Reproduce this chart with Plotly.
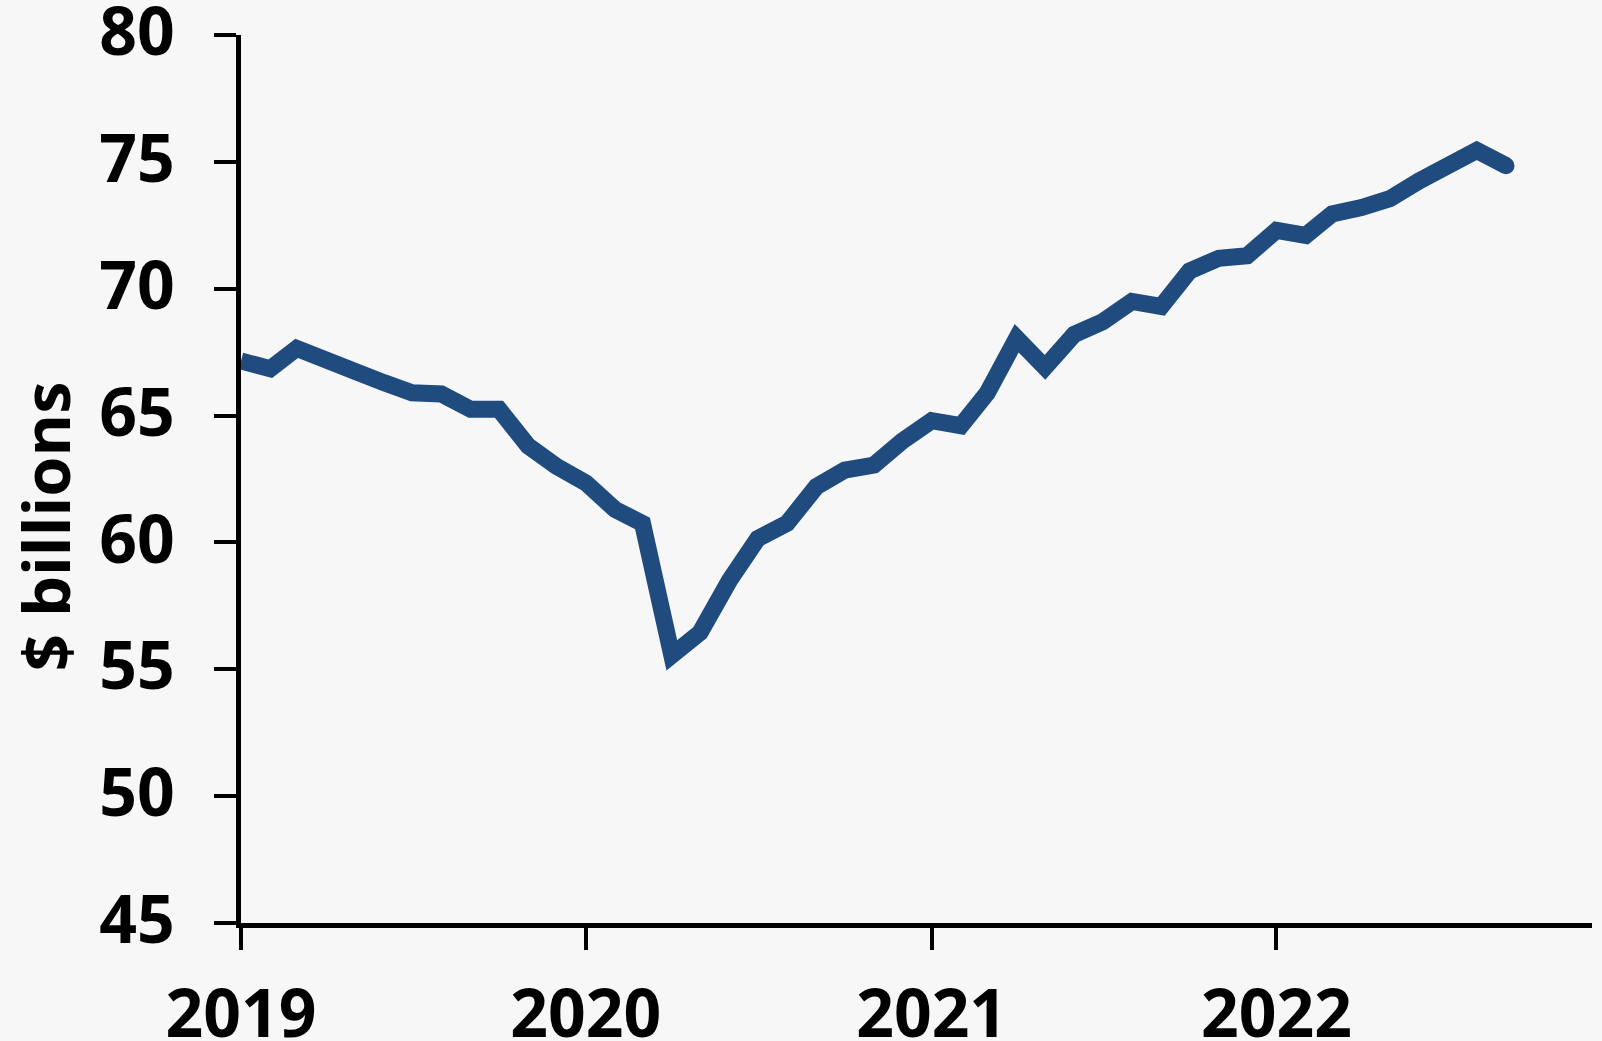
import plotly.graph_objects as go
import pandas as pd

months = pd.date_range("2019-01-01", "2022-09-01", freq="MS")
values = [
    67.15, 66.85, 67.65, 67.1, 66.75, 66.3, 65.9, 65.85, 65.25, 65.25, 63.8, 63.0,
    62.35, 61.3, 60.75, 55.55, 56.45, 58.5, 60.15, 60.75, 62.2, 62.85, 63.05, 64.0,
    64.8, 64.6, 65.9, 68.05, 66.9, 68.2, 68.7, 69.5, 69.3, 70.7, 71.2, 71.3,
    72.3, 72.1, 72.95, 73.2, 73.55, 74.25, 74.8, 75.45, 74.85,
]
y_ticks = [45, 50, 55, 60, 65, 70, 75, 80]
x_ticks = ["2019-01-01", "2020-01-01", "2021-01-01", "2022-01-01"]
x_tick_labels = ["2019", "2020", "2021", "2022"]
y_title = "$ billions"

LINE = "#1f4b7e"
BG = "#f7f7f7"
FONT = "Open Sans"

fig = go.Figure()
fig.add_trace(go.Scatter(
    x=months, y=values, mode="lines",
    line=dict(color=LINE, width=17),
    hoverinfo="skip", showlegend=False,
))
fig.add_trace(go.Scatter(
    x=[months[-1]], y=[values[-1]], mode="markers",
    marker=dict(color=LINE, size=17, line=dict(width=0)),
    hoverinfo="skip", showlegend=False,
))

fig.update_layout(
    template="none",
    width=1602, height=1041,
    margin=dict(l=241, r=10, t=35, b=118, autoexpand=False),
    paper_bgcolor=BG, plot_bgcolor=BG,
    font=dict(family=FONT, color="black"),
    xaxis=dict(
        range=["2019-01-01", "2022-12-01"],
        tickmode="array", tickvals=x_ticks, ticktext=x_tick_labels,
        ticks="outside", ticklen=22, tickwidth=4, tickcolor="black",
        showline=True, linecolor="black", linewidth=5,
        showgrid=False, zeroline=False, automargin=False,
        tickfont=dict(family=FONT, size=66, color="black", weight="bold"),
        ticklabelstandoff=8, ticklabeloverflow="allow",
    ),
    yaxis=dict(
        range=[45, 80],
        tickmode="array", tickvals=y_ticks,
        ticks="outside", ticklen=22, tickwidth=4, tickcolor="black",
        showline=True, linecolor="black", linewidth=5,
        showgrid=False, zeroline=False, automargin=False,
        tickfont=dict(family=FONT, size=66, color="black", weight="bold"),
        ticklabelstandoff=26, ticklabelshift=-3, ticklabeloverflow="allow",
    ),
    annotations=[dict(
        text=y_title, textangle=-90, showarrow=False,
        xref="paper", yref="paper", x=-0.145, y=0.447,
        xanchor="center", yanchor="middle",
        font=dict(family=FONT, size=65, color="black", weight="bold"),
    )],
)

fig.write_html(
    "out.html",
    config={"displayModeBar": False, "staticPlot": True},
    post_script=(
        "document.body.style.margin='0';document.body.style.padding='0';"
        "document.body.style.background='#f7f7f7';"
    ),
)
